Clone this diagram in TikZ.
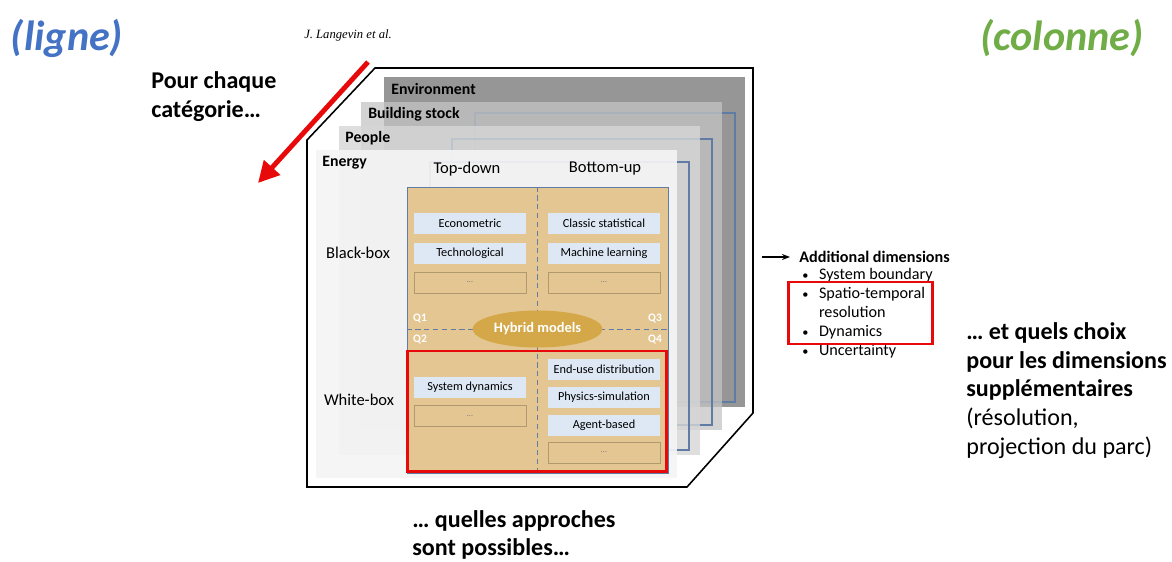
\documentclass[tikz,border=0pt]{standalone}
\usepackage{fontspec}
\setmainfont{Carlito}
\newfontfamily\citefont{Liberation Serif}
\usepackage{xcolor}
\usepackage{tikz}
\usetikzlibrary{positioning,arrows.meta,shapes.geometric}
\definecolor{ligneblue}{RGB}{68,114,196}
\definecolor{colgreen}{RGB}{112,173,71}
\definecolor{redmark}{RGB}{232,10,10}
\definecolor{tanfill}{RGB}{228,198,146}
\definecolor{boxblue}{RGB}{222,232,244}
\definecolor{hybgold}{RGB}{212,168,72}
\definecolor{qline}{RGB}{96,124,164}
\definecolor{etcline}{RGB}{178,154,112}
\definecolor{envfill}{RGB}{150,150,150}
\definecolor{bldfill}{RGB}{196,196,196}
\definecolor{pplfill}{RGB}{214,214,214}
\definecolor{enfill}{RGB}{244,244,244}
\tikzset{
  title/.style  ={font=\fontsize{24}{28}\selectfont\bfseries\itshape, inner sep=0pt},
  note/.style   ={font=\fontsize{13.7}{16.4}\selectfont\bfseries, align=left, inner sep=0pt},
  lyrlbl/.style ={font=\fontsize{9}{10}\selectfont\bfseries, inner sep=0pt, anchor=west},
  axlbl/.style  ={font=\fontsize{9.4}{11}\selectfont, inner sep=0pt},
  qframe/.style ={draw=qline, line width=0.6pt},
  grid/.style   ={rectangle, fill=tanfill, draw=qline, line width=0.5pt,
                  minimum width=5.22cm, minimum height=5.72cm, inner sep=0pt},
  qdash/.style  ={draw=qline, densely dashed, line width=0.4pt},
  mbox/.style   ={rectangle, fill=boxblue, minimum width=2.24cm, minimum height=0.42cm,
                  inner sep=0pt, font=\fontsize{7}{8}\selectfont},
  etcbox/.style ={rectangle, draw=etcline, line width=0.5pt, minimum width=2.24cm,
                  minimum height=0.42cm, inner sep=0pt, text=gray,
                  font=\fontsize{5}{6}\selectfont},
  hybrid/.style ={ellipse, fill=hybgold, minimum width=2.6cm, minimum height=0.74cm,
                  inner sep=0pt, text=white, font=\fontsize{8.2}{9}\selectfont\bfseries},
  qlbl/.style   ={text=white, inner sep=0pt, font=\fontsize{6.5}{8}\selectfont\bfseries},
  redbox/.style ={draw=redmark, line width=1.7pt},
  redarr/.style ={-{Triangle[length=12pt, width=12pt]}, draw=redmark, line width=2.8pt},
  arr/.style    ={-{Stealth[length=1.6mm]}, line width=0.8pt},
}
\begin{document}
\begin{tikzpicture}[x=0.02cm, y=-0.02cm]
  \useasboundingbox (0,0) rectangle (1172,561);

  % titles and source
  \node[title, text=ligneblue] (ligne) at (67,38) {(ligne)};
  \node[title, text=colgreen] (colonne) at (1062,38) {(colonne)};
  \node[inner sep=0pt, font=\citefont\itshape\fontsize{7.2}{8}\selectfont] (cite) at (348,35) {J. Langevin et al.};
  \node[note, anchor=north west] (pour) at (151,71) {Pour chaque\\catégorie\dots};

  % cube outline
  \draw[line width=0.9pt] (307,140) -- (375,68) -- (753,68) -- (753,413) -- (687,487) -- (307,487) -- cycle;

  % stacked layers, back to front
  \fill[envfill] (384,77) rectangle (745,407);
  \draw[qframe] (475,113) rectangle (735,402);
  \fill[bldfill, fill opacity=.75] (361,102) rectangle (722,430);
  \draw[qframe] (452,139) rectangle (712,425);
  \fill[pplfill, fill opacity=.8] (339,126) rectangle (700,455);
  \draw[qframe] (430,162) rectangle (689,450);
  \fill[enfill, fill opacity=.92] (316,150) rectangle (677,478);

  \node[lyrlbl] (env) at (391,89) {Environment};
  \node[lyrlbl] (bld) at (368,114) {Building stock};
  \node[lyrlbl] (ppl) at (345,138) {People};
  \node[lyrlbl] (nrg) at (322,163) {Energy};

  \node[axlbl] (td) at (467,169) {Top-down};
  \node[axlbl] (bu) at (605,169) {Bottom-up};
  \node[axlbl] (bb) at (358,253) {Black-box};
  \node[axlbl] (wb) at (359,400) {White-box};

  % quadrants
  \node[grid] (grid) at (537.5,330) {};
  \coordinate (mid) at (537.5,329);
  \draw[qdash] (grid.north) -- (grid.south);
  \draw[qdash] (grid.west |- mid) -- (grid.east |- mid);
  \node[hybrid] (hyb) at (mid) {Hybrid models};
  \node[qlbl] (q1) at (420,318) {Q1};
  \node[qlbl] (q3) at (655,318) {Q3};
  \node[qlbl] (q2) at (420,339) {Q2};
  \node[qlbl] (q4) at (655,339) {Q4};

  \node[mbox] (econ) at (470,223) {Econometric};
  \node[mbox] (techno) at (470,253) {Technological};
  \node[etcbox] (etca) at (470,282.5) {\dots};
  \node[mbox] (stat) at (604,223) {Classic statistical};
  \node[mbox] (ml) at (604,253) {Machine learning};
  \node[etcbox] (etcb) at (604,282.5) {\dots};
  \node[mbox] (sysdyn) at (470,387) {System dynamics};
  \node[etcbox] (etcc) at (470,416) {\dots};
  \node[mbox] (enduse) at (604,369) {End-use distribution};
  \node[mbox] (phys) at (604,397) {Physics-simulation};
  \node[mbox] (agent) at (604,425.5) {Agent-based};
  \node[etcbox] (etcd) at (604,452.5) {\dots};

  \draw[redbox] (407,351) rectangle (666,471);

  % row arrow
  \coordinate (rowS) at (368,62);
  \coordinate (rowE) at (258,183);
  \draw[redarr] (rowS) -- (rowE);

  % additional dimensions
  \coordinate (dimS) at (762,257);
  \node[anchor=west, inner sep=0pt, font=\fontsize{9.2}{10}\selectfont\bfseries] (adddim) at (799,257) {Additional dimensions};
  \draw[arr] (dimS) -- (790,257);
  \node[anchor=north west, inner sep=0pt, font=\fontsize{9.2}{10.8}\selectfont] (dimlist) at (802,266)
    {\begin{tabular}{@{}l@{\hspace{6pt}}l@{}}
      {\scriptsize\textbullet} & System boundary\\
      {\scriptsize\textbullet} & Spatio-temporal\\
                  & resolution\\
      {\scriptsize\textbullet} & Dynamics\\
      {\scriptsize\textbullet} & Uncertainty
    \end{tabular}};
  \draw[redbox] (788,282) rectangle (932,344);

  \node[note, anchor=north west] (choix) at (966,322)
    {\dots{} et quels choix\\pour les dimensions\\supplémentaires\\
     \textmd{(résolution,}\\\textmd{projection du parc)}};

  \node[note, anchor=north west, font=\fontsize{13.7}{15.8}\selectfont\bfseries] (appr) at (412,510) {\dots{} quelles approches\\sont possibles\dots};
\end{tikzpicture}
\end{document}
